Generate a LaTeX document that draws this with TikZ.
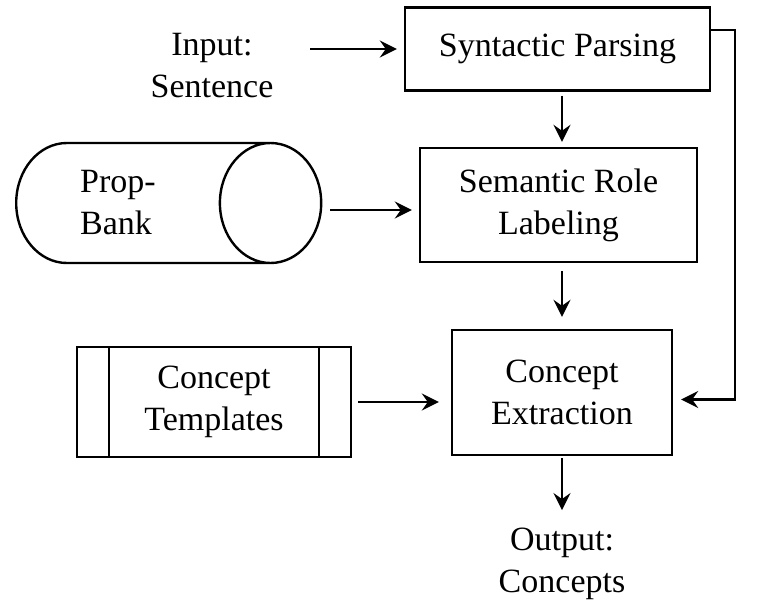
\documentclass[tikz,border=0pt]{standalone}
\usepackage{fontspec}
\setmainfont{Liberation Serif}
\usetikzlibrary{shapes.geometric, arrows.meta, positioning}

\begin{document}
\begin{tikzpicture}[
    x=0.5pt, y=-0.5pt,
    font=\fontsize{17}{21}\selectfont,
    stage/.style={rectangle, draw, line width=1.2pt, align=center},
    store/.style={cylinder, draw, line width=1.2pt, aspect=1.3, minimum width=60pt, minimum height=152.5pt, text width=51pt, align=left},
    arrow/.style={-{Stealth[length=8.5pt, width=8.5pt, inset=3pt]}, line width=1.2pt, shorten >=3.5pt, shorten <=3pt}
]
\useasboundingbox (0,0) rectangle (762,616);

% Pipeline stages
\node (syntactic) at (557.5,49) [stage, minimum width=152.5pt, minimum height=41.5pt] {Syntactic Parsing};
\node (srl) at (558.5,205) [stage, minimum width=138.5pt, minimum height=57pt] {Semantic Role\\Labeling};
\node (extraction) at (562,392.5) [stage, minimum width=110pt, minimum height=62.5pt] {Concept\\Extraction};

% Resources
\node (propbank) at (15,203) [store, anchor=west] {Prop-\\Bank};
\node (templates) at (214,402) [stage, minimum width=137pt, minimum height=55pt] {Concept\\Templates};
\draw [line width=1.2pt] ([xshift=16.5pt]templates.north west) -- ([xshift=16.5pt]templates.south west);
\draw [line width=1.2pt] ([xshift=-16.5pt]templates.north east) -- ([xshift=-16.5pt]templates.south east);

% Input and output
\node (input) at (212,66) [align=center] {Input:\\Sentence};
\node (output) at (562,564) [align=center] {Output:\\Concepts};
\coordinate (loop) at (735,30);

% Connections
\draw [arrow, shorten <=15pt] (input.east |- syntactic.west) -- (syntactic.west);
\draw [arrow, shorten <=2pt, shorten >=2.5pt] (syntactic.south -| extraction.north) -- (srl.north -| extraction.north);
\draw [arrow, shorten <=4pt] (propbank.east |- 0,210) -- (srl.west |- 0,210);
\draw [arrow, shorten <=4pt, shorten >=6pt] (srl.south -| extraction.north) -- (extraction.north);
\draw [arrow, shorten >=6pt] (templates.east) -- (templates.east -| extraction.west);
\draw [arrow, shorten <=1pt, shorten >=5.5pt] (extraction.south) -- (output.north);
\draw [arrow, shorten <=0pt, shorten >=4pt] (syntactic.east |- loop) -- (loop) |- ([yshift=-3.5pt]extraction.east);

\end{tikzpicture}
\end{document}
